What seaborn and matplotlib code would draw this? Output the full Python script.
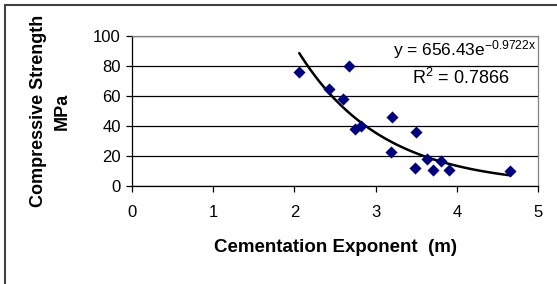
import numpy as np
import pandas as pd
import matplotlib
matplotlib.use("Agg")
import matplotlib.pyplot as plt
import seaborn as sns
from matplotlib.lines import Line2D

cem_exponent = [2.06, 2.67, 2.42, 2.60, 2.75, 2.82, 3.20, 3.19, 3.50, 3.49, 3.63, 3.71, 3.81, 3.91, 4.65]
strength = [76, 80, 65, 58, 38, 40, 46, 23, 36, 12, 18, 11, 17, 11, 10]

# Exponentieller Trend aus der Gleichung im Diagramm
fit_a = 656.43
fit_b = -0.9722
r_squared = 0.7866

x_ticks = [0, 1, 2, 3, 4, 5]
y_ticks = [0, 20, 40, 60, 80, 100]

df = pd.DataFrame({"m": cem_exponent, "sigma": strength})

sns.set_style("white")
plt.rcParams['font.family'] = ['Liberation Sans', 'DejaVu Sans']
plt.rcParams['mathtext.default'] = 'regular'
plt.rcParams['text.color'] = 'black'
plt.rcParams['axes.labelcolor'] = 'black'
plt.rcParams['xtick.color'] = 'black'
plt.rcParams['ytick.color'] = 'black'

fig = plt.figure(figsize=(5.57, 2.84), dpi=100)
ax = fig.add_axes([132 / 557, 1 - 186 / 284, (538 - 132) / 557, 150 / 284])

# Trendlinie
x_fit = np.linspace(min(cem_exponent), max(cem_exponent), 100)
fit_df = pd.DataFrame({"m": x_fit, "sigma": fit_a * np.exp(fit_b * x_fit)})
sns.lineplot(data=fit_df, x="m", y="sigma", ax=ax, color="black", lw=1.8, zorder=3)

sns.scatterplot(data=df, x="m", y="sigma", ax=ax, marker="D", color="#000080",
                s=38, edgecolor="#000080", linewidth=0, zorder=4)

ax.set_xlim(0, 5)
ax.set_ylim(0, 100)
ax.set_xticks(x_ticks)
ax.set_yticks(y_ticks)
ax.yaxis.grid(True, color="black", lw=0.9)
ax.set_axisbelow(True)
ax.tick_params(axis="both", direction="out", length=4, width=0.9, color="black",
               labelcolor="black", labelsize=12, pad=4, left=True, bottom=True)
ax.tick_params(axis="x", pad=10)

for side in ["left", "bottom"]:
    ax.spines[side].set_color("black")
    ax.spines[side].set_linewidth(0.9)
for side in ["top", "right"]:
    ax.spines[side].set_color("#808080")
    ax.spines[side].set_linewidth(0.9)

ax.set_xlabel("Cementation Exponent  (m)", fontsize=13.5, fontweight="bold",
              labelpad=13, color="black")
ax.set_ylabel("Compressive Strength\nMPa", fontsize=13, fontweight="bold",
              labelpad=16, linespacing=1.5, color="black")

ax.text(0.995, 0.91, "y = 656.43e$^{-0.9722x}$", transform=ax.transAxes,
        ha="right", va="center", fontsize=12.5, color="black")
ax.text(0.929, 0.72, "R$^2$ = 0.7866", transform=ax.transAxes,
        ha="right", va="center", fontsize=13, color="black")

# Rahmen um das Diagramm
fig.add_artist(Line2D([5 / 557, 5 / 557], [0, 1 - 5 / 284], transform=fig.transFigure,
                      color="#404040", lw=1.5))
fig.add_artist(Line2D([5 / 557, 1], [1 - 5 / 284, 1 - 5 / 284], transform=fig.transFigure,
                      color="#404040", lw=1.5))

fig.savefig("out.png", dpi=100)
